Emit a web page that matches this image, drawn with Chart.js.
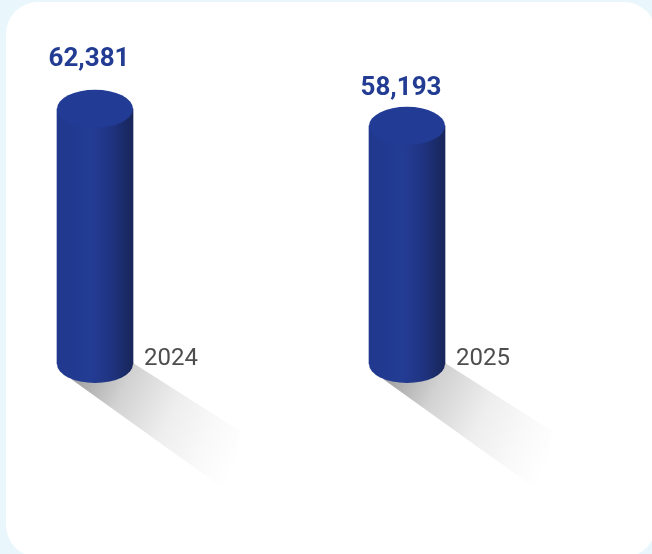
<!DOCTYPE html>
<html>
<head>
<meta charset="utf-8">
<style>
  html, body { margin: 0; padding: 0; width: 652px; height: 554px; overflow: hidden; background: #e9f6fb; }
  #card { position: absolute; left: 6px; top: 2px; width: 650px; height: 555px; background: #fff; border-radius: 32px; }
  #chart { position: absolute; left: 0; top: 0; }
</style>
</head>
<body>
<div id="card"></div>
<canvas id="chart" width="652" height="554"></canvas>
<script src="https://cdn.jsdelivr.net/npm/chart.js@4"></script>
<script>
// ------------------------- Data -------------------------
const years = ['2024', '2025'];
const values = [62381, 58193];

// ------------------------- Cylinder look -------------------------
const BAR_WIDTH = 76;
const ELLIPSE_RY = 19;
const VALUE_COLOR = '#233c93';
const LABEL_COLOR = '#4d4d4d';
// value labels are not placed evenly in the original
const valueLabelLift = [49, 37];

function barGradient(c, x) {
  const g = c.createLinearGradient(x - BAR_WIDTH / 2, 0, x + BAR_WIDTH / 2, 0);
  g.addColorStop(0, '#20398e');
  g.addColorStop(0.45, '#233c94');
  g.addColorStop(0.72, '#1f3380');
  g.addColorStop(1, '#18265a');
  return g;
}

const cylinderPlugin = {
  id: 'cylinder',
  beforeDatasetsDraw(chart) {
    const c = chart.ctx;
    chart.getDatasetMeta(0).data.forEach(bar => {
      const x = bar.x, y = bar.base;
      // floor shadow
      const g = c.createLinearGradient(x - 20, y + 22, x + 140, y + 102);
      g.addColorStop(0, '#a4a4a4');
      g.addColorStop(0.25, '#d2d2d2');
      g.addColorStop(0.55, '#eeeeee');
      g.addColorStop(0.8, '#f9f9f9');
      g.addColorStop(1, '#ffffff');
      c.save();
      c.fillStyle = g;
      c.beginPath();
      c.moveTo(x - 24, y + 15);
      c.lineTo(x + 38, y - 1);
      c.lineTo(x + 145, y + 67);
      c.lineTo(x + 132, y + 127);
      c.closePath();
      c.fill();
      // bottom of the cylinder
      c.fillStyle = barGradient(c, x);
      c.beginPath();
      c.ellipse(x, y, BAR_WIDTH / 2, ELLIPSE_RY, 0, 0, Math.PI * 2);
      c.fill();
      c.restore();
    });
  },
  afterDatasetsDraw(chart) {
    const c = chart.ctx;
    chart.getDatasetMeta(0).data.forEach((bar, i) => {
      c.save();
      c.fillStyle = '#223c96';
      c.beginPath();
      c.ellipse(bar.x, bar.y, BAR_WIDTH / 2, ELLIPSE_RY, 0, 0, Math.PI * 2);
      c.fill();
      c.fillStyle = VALUE_COLOR;
      c.font = 'bold 26px Roboto';
      c.textAlign = 'center';
      c.textBaseline = 'middle';
      c.fillText(values[i].toLocaleString('en-US'), bar.x - 6, bar.y - valueLabelLift[i]);
      c.restore();
    });
  }
};

// ------------------------- Chart -------------------------
const ctx = document.getElementById('chart').getContext('2d');
const chart = new Chart(ctx, {
  type: 'bar',
  data: {
    labels: years,
    datasets: [{
      data: values,
      barThickness: BAR_WIDTH,
      borderWidth: 0,
      clip: false,
      backgroundColor: c => {
        const x = c.chart.scales.x ? c.chart.scales.x.getPixelForValue(c.dataIndex) : NaN;
        return Number.isFinite(x) ? barGradient(c.chart.ctx, x) : '#233c96';
      }
    }]
  },
  options: {
    responsive: false,
    animation: false,
    layout: { padding: { left: 95, right: 245, top: 98, bottom: 0 } },
    plugins: { legend: { display: false }, tooltip: { enabled: false } },
    scales: {
      x: {
        offset: false,
        border: { display: false },
        grid: { display: false },
        afterFit(scale) { scale.height = 190; },
        ticks: {
          autoSkip: false,
          maxRotation: 0,
          mirror: true,
          padding: -9,
          labelOffset: 76,
          color: LABEL_COLOR,
          font: { family: 'Roboto', size: 24 }
        }
      },
      y: { display: false, min: 0, max: 65000 }
    }
  },
  plugins: [cylinderPlugin]
});
</script>
</body>
</html>
